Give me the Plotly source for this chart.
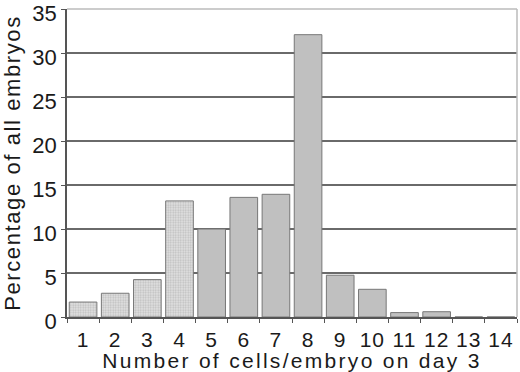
import plotly.graph_objects as go

categories = [str(i) for i in range(1, 15)]
values = [1.7, 2.7, 4.25, 13.2, 10.0, 13.6, 13.95, 32.1, 4.75, 3.15, 0.5, 0.6, 0, 0]
speckled = [True, True, True, True] + [False] * 10
y_ticks = [0, 5, 10, 15, 20, 25, 30, 35]

font_family = "Liberation Sans, Arial, sans-serif"

sp_x = [c for c, s in zip(categories, speckled) if s]
sp_y = [v for v, s in zip(values, speckled) if s]
so_x = [c for c, s in zip(categories, speckled) if not s]
so_y = [v for v, s in zip(values, speckled) if not s]

fig = go.Figure()
fig.add_trace(go.Bar(
    x=sp_x, y=sp_y,
    marker=dict(color="#d4d4d4", line=dict(color="#777777", width=1),
                pattern=dict(shape=".", fgcolor="#9a9a9a", bgcolor="#e2e2e2", size=2.5, solidity=0.45)),
))
fig.add_trace(go.Bar(
    x=so_x, y=so_y,
    marker=dict(color="#c0c0c0", line=dict(color="#777777", width=1)),
))
fig.update_layout(
    width=520, height=372,
    margin=dict(l=67, r=3, t=9, b=55),
    plot_bgcolor="white", paper_bgcolor="white",
    showlegend=False, bargap=0.14,
    font=dict(family=font_family, size=21, color="#1a1a1a"),
)
fig.update_xaxes(
    type="category", categoryorder="array", categoryarray=categories,
    tickson="boundaries", ticks="outside", ticklen=4, tickcolor="#555",
    showline=True, linecolor="#555", linewidth=1.5, mirror=False,
    title=dict(text="Number of cells/embryo on day 3", standoff=2, font=dict(size=21)),
    tickfont=dict(size=21), showgrid=False, tickangle=0, automargin=False,
    ticklabelstandoff=3,
)
fig.update_yaxes(
    range=[0, 35.02], tickvals=y_ticks, ticks="outside", ticklen=4, tickcolor="#555",
    showline=True, linecolor="#555", linewidth=1.5,
    showgrid=True, gridcolor="#6a6a6a", gridwidth=1.5,
    title=dict(text="Percentage of all embryos", standoff=8, font=dict(size=22)),
    tickfont=dict(size=22), zeroline=False, automargin=False,
    ticklabeloverflow="allow", ticklabelshift=4,
)
# light frame top/right
fig.add_shape(type="line", xref="paper", yref="paper", x0=0, x1=1, y0=1, y1=1,
              line=dict(color="#bbbbbb", width=1.5))
fig.add_shape(type="line", xref="paper", yref="paper", x0=1, x1=1, y0=0, y1=1,
              line=dict(color="#bbbbbb", width=1.5))

css = ("var s=document.createElement('style');"
       "s.textContent='.xtitle{letter-spacing:2.3px}.ytitle{letter-spacing:1.6px}"
       ".xtick text{letter-spacing:1px}';document.head.appendChild(s);")
fig.write_html("out.html", post_script=css)
